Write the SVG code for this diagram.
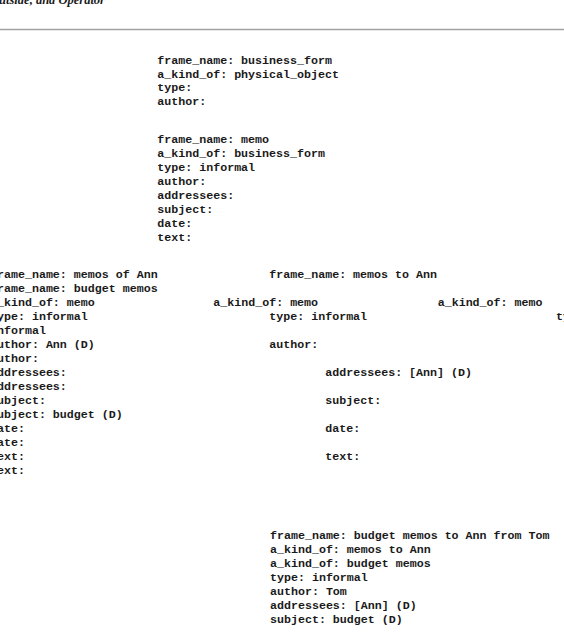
<svg xmlns="http://www.w3.org/2000/svg" width="564" height="635" viewBox="0 0 564 635">
<style>
.t{font-family:"Liberation Mono","Courier New",monospace;font-weight:bold;font-size:11.65px;fill:#1a1a1a;white-space:pre}
.h{font-family:"Liberation Serif","Times New Roman",serif;font-style:italic;font-weight:bold;font-size:12.5px;fill:#1a1a1a}
</style>
<rect width="564" height="635" fill="#fff"/>
<text class="h" x="105" y="4" text-anchor="end">Outside, and Operator</text>
<line x1="0" y1="29.5" x2="564" y2="29.5" stroke="#a0a0a0" stroke-width="1.5"/>
<g id="business_form">
<text class="t" x="157.3" y="63.8">frame_name: business_form</text>
<text class="t" x="157.3" y="77.6">a_kind_of: physical_object</text>
<text class="t" x="157.3" y="91.4">type:</text>
<text class="t" x="157.3" y="105.2">author:</text>
</g>
<g id="memo">
<text class="t" x="157.3" y="142.7">frame_name: memo</text>
<text class="t" x="157.3" y="156.7">a_kind_of: business_form</text>
<text class="t" x="157.3" y="170.7">type: informal</text>
<text class="t" x="157.3" y="184.7">author:</text>
<text class="t" x="157.3" y="198.7">addressees:</text>
<text class="t" x="157.3" y="212.7">subject:</text>
<text class="t" x="157.3" y="226.7">date:</text>
<text class="t" x="157.3" y="240.7">text:</text>
</g>
<g id="memos_of_ann_budget_memos">
<text class="t" x="-10" y="277.8">frame_name: memos of Ann</text>
<text class="t" x="-10" y="291.8">frame_name: budget memos</text>
<text class="t" x="-10" y="305.8">a_kind_of: memo</text>
<text class="t" x="-10" y="319.8">type: informal</text>
<text class="t" x="-10" y="333.8">informal</text>
<text class="t" x="-10" y="347.8">author: Ann (D)</text>
<text class="t" x="-10" y="361.8">author:</text>
<text class="t" x="-10" y="375.8">addressees:</text>
<text class="t" x="-10" y="389.8">addressees:</text>
<text class="t" x="-10" y="403.8">subject:</text>
<text class="t" x="-10" y="417.8">subject: budget (D)</text>
<text class="t" x="-10" y="431.8">date:</text>
<text class="t" x="-10" y="445.8">date:</text>
<text class="t" x="-10" y="459.8">text:</text>
<text class="t" x="-10" y="473.8">text:</text>
</g>
<g id="memos_to_ann">
<text class="t" x="269.3" y="277.8">frame_name: memos to Ann</text>
<text class="t" x="213.3" y="305.8">a_kind_of: memo</text>
<text class="t" x="437.7" y="305.8">a_kind_of: memo</text>
<text class="t" x="269.3" y="319.8">type: informal</text>
<text class="t" x="556" y="319.8">type: informal</text>
<text class="t" x="269.3" y="347.8">author:</text>
<text class="t" x="325.3" y="375.8">addressees: [Ann] (D)</text>
<text class="t" x="325.3" y="403.8">subject:</text>
<text class="t" x="325.3" y="431.8">date:</text>
<text class="t" x="325.3" y="459.8">text:</text>
</g>
<g id="budget_memos_to_ann_from_tom">
<text class="t" x="270" y="538.5">frame_name: budget memos to Ann from Tom</text>
<text class="t" x="270" y="552.5">a_kind_of: memos to Ann</text>
<text class="t" x="270" y="566.5">a_kind_of: budget memos</text>
<text class="t" x="270" y="580.5">type: informal</text>
<text class="t" x="270" y="594.5">author: Tom</text>
<text class="t" x="270" y="608.5">addressees: [Ann] (D)</text>
<text class="t" x="270" y="622.5">subject: budget (D)</text>
</g>
</svg>
